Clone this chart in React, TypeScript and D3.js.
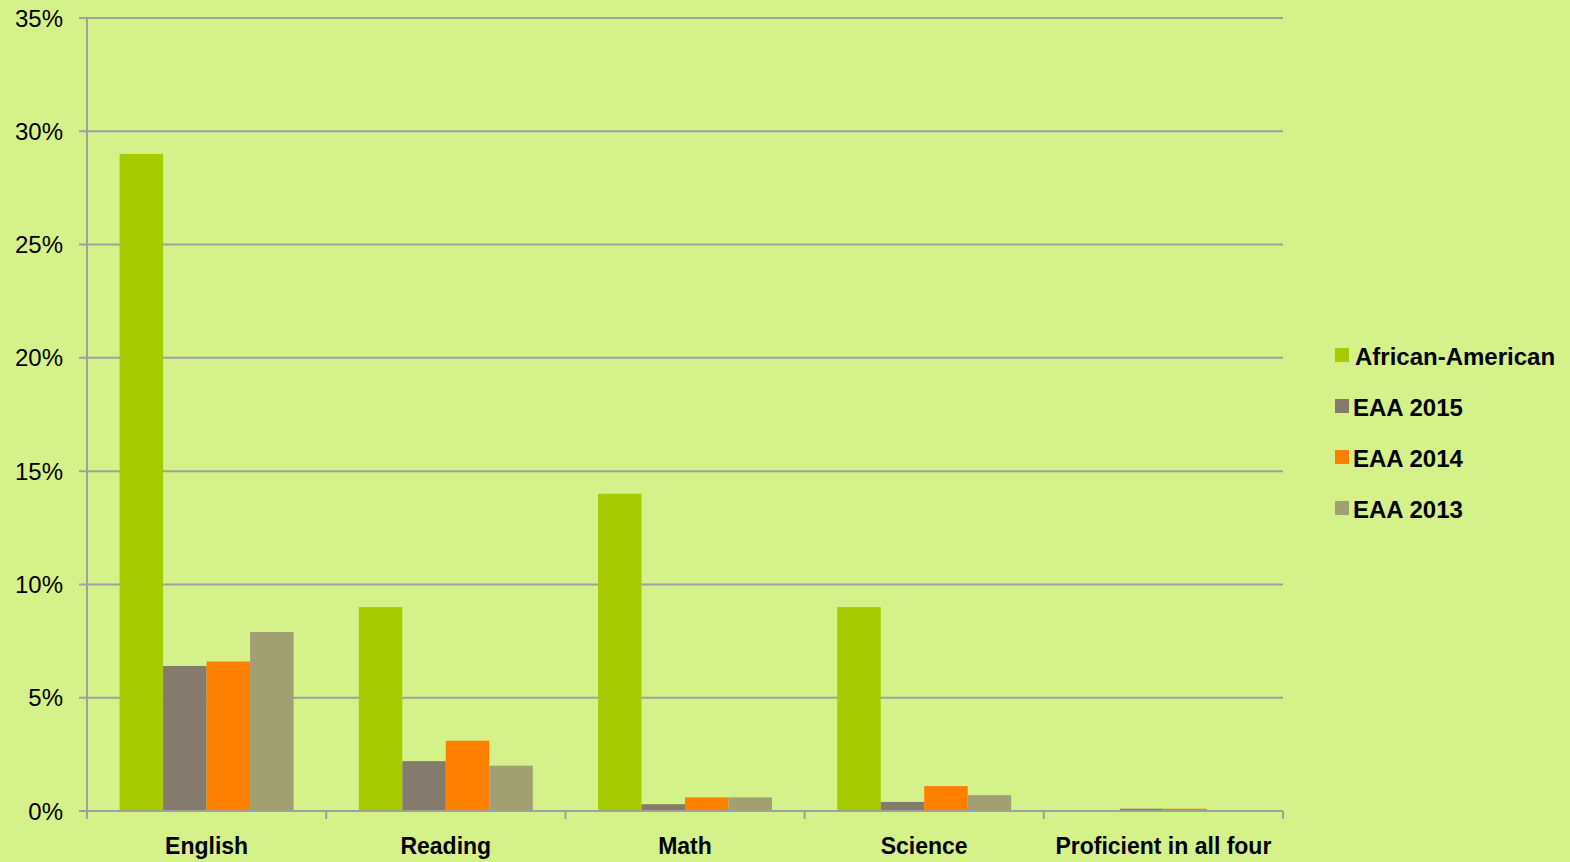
import { useEffect, useRef } from "react";
import * as d3 from "d3";

const categories = ["English", "Reading", "Math", "Science", "Proficient in all four"];
const seriesNames = ["African-American", "EAA 2015", "EAA 2014", "EAA 2013"];
const africanAmerican = [29, 9, 14, 9, 0];
const eaa2015 = [6.4, 2.2, 0.3, 0.4, 0.1];
const eaa2014 = [6.6, 3.1, 0.6, 1.1, 0.1];
const eaa2013 = [7.9, 2.0, 0.6, 0.7, 0];
const yTicks = [0, 5, 10, 15, 20, 25, 30, 35];
const colors = ["#a6cc00", "#857a6e", "#ff8000", "#a0a073"];

const W = 1570;
const H = 862;
const M = { top: 18, right: 287, bottom: 51, left: 87 };
const FONT = "'Liberation Sans', Arial, sans-serif";

export default function App() {
  const svgRef = useRef<SVGSVGElement | null>(null);

  useEffect(() => {
    const svg = d3.select(svgRef.current);
    svg.selectAll("*").remove();

    svg.append("rect").attr("width", W).attr("height", H).attr("fill", "#d4f18a");

    const x = d3
      .scaleBand<string>()
      .domain(categories)
      .range([M.left, W - M.right])
      .paddingInner(0)
      .paddingOuter(0);

    const inner = d3
      .scaleBand<string>()
      .domain(seriesNames)
      .range([0, x.bandwidth()])
      .paddingOuter(0.75)
      .paddingInner(0);

    const y = d3.scaleLinear().domain([0, 35]).range([H - M.bottom, M.top]);

    // gridlines + y ticks
    const grid = svg.append("g");
    grid
      .selectAll("line")
      .data(yTicks)
      .join("line")
      .attr("x1", M.left - 8)
      .attr("x2", W - M.right)
      .attr("y1", (d) => y(d))
      .attr("y2", (d) => y(d))
      .attr("stroke", "#a0a0a0")
      .attr("stroke-width", 2);

    svg
      .append("g")
      .selectAll("text")
      .data(yTicks)
      .join("text")
      .attr("x", 63)
      .attr("y", (d) => y(d))
      .attr("dy", "0.36em")
      .attr("text-anchor", "end")
      .attr("font-family", FONT)
      .attr("font-size", 24)
      .attr("fill", "#000")
      .text((d) => `${d}%`);

    // bars
    const series = [africanAmerican, eaa2015, eaa2014, eaa2013];
    series.forEach((vals, si) => {
      svg
        .append("g")
        .selectAll("rect")
        .data(vals)
        .join("rect")
        .attr("x", (_, i) => (x(categories[i]) ?? 0) + (inner(seriesNames[si]) ?? 0))
        .attr("width", inner.bandwidth())
        .attr("y", (d) => y(d))
        .attr("height", (d) => y(0) - y(d))
        .attr("fill", colors[si]);
    });

    // y axis line
    svg
      .append("line")
      .attr("x1", M.left)
      .attr("x2", M.left)
      .attr("y1", M.top)
      .attr("y2", y(0) + 8)
      .attr("stroke", "#a0a0a0")
      .attr("stroke-width", 2);

    // x axis
    svg
      .append("line")
      .attr("x1", M.left - 8)
      .attr("x2", W - M.right)
      .attr("y1", y(0))
      .attr("y2", y(0))
      .attr("stroke", "#a0a0a0")
      .attr("stroke-width", 2);

    const bounds = categories.map((c) => x(c) ?? 0).concat([W - M.right]);
    svg
      .append("g")
      .selectAll("line")
      .data(bounds)
      .join("line")
      .attr("x1", (d) => d)
      .attr("x2", (d) => d)
      .attr("y1", y(0))
      .attr("y2", y(0) + 8)
      .attr("stroke", "#a0a0a0")
      .attr("stroke-width", 2);

    svg
      .append("g")
      .selectAll("text")
      .data(categories)
      .join("text")
      .attr("x", (d) => (x(d) ?? 0) + x.bandwidth() / 2)
      .attr("y", 854)
      .attr("text-anchor", "middle")
      .attr("font-family", FONT)
      .attr("font-weight", "bold")
      .attr("font-size", 23)
      .attr("fill", "#000")
      .text((d) => d);

    // legend
    const legend = svg
      .append("g")
      .selectAll("g")
      .data(seriesNames)
      .join("g")
      .attr("transform", (_, i) => `translate(1335, ${356 + i * 51})`);
    legend
      .append("rect")
      .attr("x", 0)
      .attr("y", -8)
      .attr("width", 14)
      .attr("height", 14)
      .attr("fill", (_, i) => colors[i]);
    legend
      .append("text")
      .attr("x", (_, i) => (i === 0 ? 20 : 18))
      .attr("y", 0)
      .attr("dy", "0.36em")
      .attr("font-family", FONT)
      .attr("font-weight", "bold")
      .attr("font-size", 24)
      .attr("fill", "#000")
      .text((d) => d);
  }, []);

  return (
    <svg
      ref={svgRef}
      width={W}
      height={H}
      style={{ position: "fixed", left: 0, top: 0, display: "block" }}
    />
  );
}
